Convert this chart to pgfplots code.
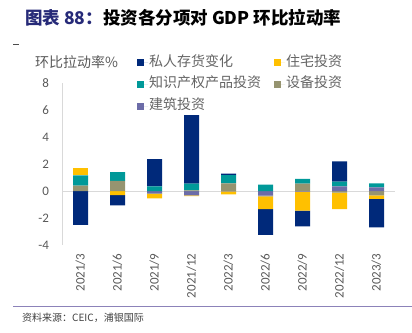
\documentclass[border=0pt]{standalone}
\usepackage{fontspec}
\usepackage{pgfplots}
\usepackage{pgfplotstable}
\pgfplotsset{compat=1.18}
\setmainfont{Carlito}
\newfontfamily\cjk{Noto Sans CJK SC}
\definecolor{cNavy}{RGB}{0,41,122}
\definecolor{cYellow}{RGB}{255,192,0}
\definecolor{cTeal}{RGB}{0,153,153}
\definecolor{cOlive}{RGB}{150,148,112}
\definecolor{cPurple}{RGB}{108,108,168}
\definecolor{titleblue}{RGB}{38,42,120}
\definecolor{tickgray}{RGB}{89,89,89}
\definecolor{leggray}{RGB}{100,100,100}
\definecolor{linegray}{RGB}{217,217,217}
\definecolor{bottomline}{RGB}{140,130,185}

\pgfplotstableread{
x inv res ip eq con
0 -2.50 0.57 0.75 0.40 0.00
1 -0.77 -0.30 0.65 0.75 0.00
2 2.02 -0.33 0.35 -0.05 -0.17
3 5.07 -0.05 0.50 0.05 -0.33
4 0.12 -0.22 0.60 0.57 -0.03
5 -1.90 -0.95 0.47 -0.05 -0.35
6 -1.17 -1.40 0.35 0.55 -0.05
7 1.50 -1.22 0.35 -0.12 0.35
8 -2.12 -0.25 0.30 -0.33 0.27
}\data

\begin{document}
\begin{tikzpicture}[x=1pt,y=1pt]
\path[use as bounding box] (0,0) rectangle (412,332);
\node[anchor=west, inner sep=0] at (25,314) {\cjk\bfseries\fontsize{17.5}{20}\selectfont\textcolor{titleblue}{图表 88：}投资各分项对 GDP 环比拉动率};
\draw[black!70, line width=0.8] (13,288) -- (19,288);
\node[anchor=west, inner sep=0, text=tickgray] at (35,270) {\cjk\fontsize{14}{16}\selectfont 环比拉动率\%};
\draw[bottomline, line width=1.5] (13,25.3) -- (412,25.3);
\node[anchor=west, inner sep=0, text=black!75] at (22,14) {\cjk\fontsize{10}{12}\selectfont 资料来源：CEIC，浦银国际};
\begin{axis}[
  at={(62pt,87pt)}, anchor=south west,
  scale only axis, width=333pt, height=162pt,
  xmin=-0.5, xmax=8.5, ymin=-4, ymax=8,
  ybar stacked, bar width=15pt,
  axis x line*=bottom, axis y line*=left,
  x axis line style={draw=none},
  y axis line style={draw=linegray, line width=0.8pt},
  major tick length=0,
  xtick={0,...,8},
  xticklabels={2021/3,2021/6,2021/9,2021/12,2022/3,2022/6,2022/9,2022/12,2023/3},
  xticklabel style={yshift=-5pt, rotate=90, anchor=east},
  ytick={-4,-2,0,2,4,6,8},
  yticklabels={-4,-2,0,2,4,6,8},
  yticklabel style={xshift=-9.5pt},
  tick label style={font=\fontsize{13}{15}\selectfont, text=tickgray},
  extra y ticks={0}, extra y tick labels={},
  extra y tick style={grid=major, major grid style={linegray, line width=0.8pt}},
  legend columns=2, reverse legend, legend cell align=left,
  legend image code/.code={\path (0pt,0pt) -- (11pt,0pt); \fill[#1] (0pt,-3.5pt) rectangle (7pt,3.5pt);},
  legend style={at={(0.225,1.173)}, anchor=north west, draw=none, fill=none,
    font=\cjk\fontsize{14}{16}\selectfont, text=leggray, inner sep=0pt,
    row sep=6.7pt,
    /tikz/every even column/.append style={column sep=12pt},
    nodes={inner sep=1pt, text height=10pt, text depth=3pt}},
]
\addplot[fill=cPurple, draw=none] table[x=x, y expr={max(\thisrow{con},0)}] {\data};
\addlegendentry{建筑投资}
\addplot[fill=cOlive, draw=none] table[x=x, y expr={max(\thisrow{eq},0)}] {\data};
\addlegendentry{设备投资}
\addplot[fill=cTeal, draw=none] table[x=x, y expr={max(\thisrow{ip},0)}] {\data};
\addlegendentry{知识产权产品投资}
\addplot[fill=cYellow, draw=none] table[x=x, y expr={max(\thisrow{res},0)}] {\data};
\addlegendentry{住宅投资}
\addplot[fill=cNavy, draw=none] table[x=x, y expr={max(\thisrow{inv},0)}] {\data};
\addlegendentry{私人存货变化}
\addplot[fill=cPurple, draw=none] table[x=x, y expr={min(\thisrow{con},0)}] {\data};
\addplot[fill=cOlive, draw=none] table[x=x, y expr={min(\thisrow{eq},0)}] {\data};
\addplot[fill=cTeal, draw=none] table[x=x, y expr={min(\thisrow{ip},0)}] {\data};
\addplot[fill=cYellow, draw=none] table[x=x, y expr={min(\thisrow{res},0)}] {\data};
\addplot[fill=cNavy, draw=none] table[x=x, y expr={min(\thisrow{inv},0)}] {\data};
\end{axis}
\end{tikzpicture}
\end{document}
